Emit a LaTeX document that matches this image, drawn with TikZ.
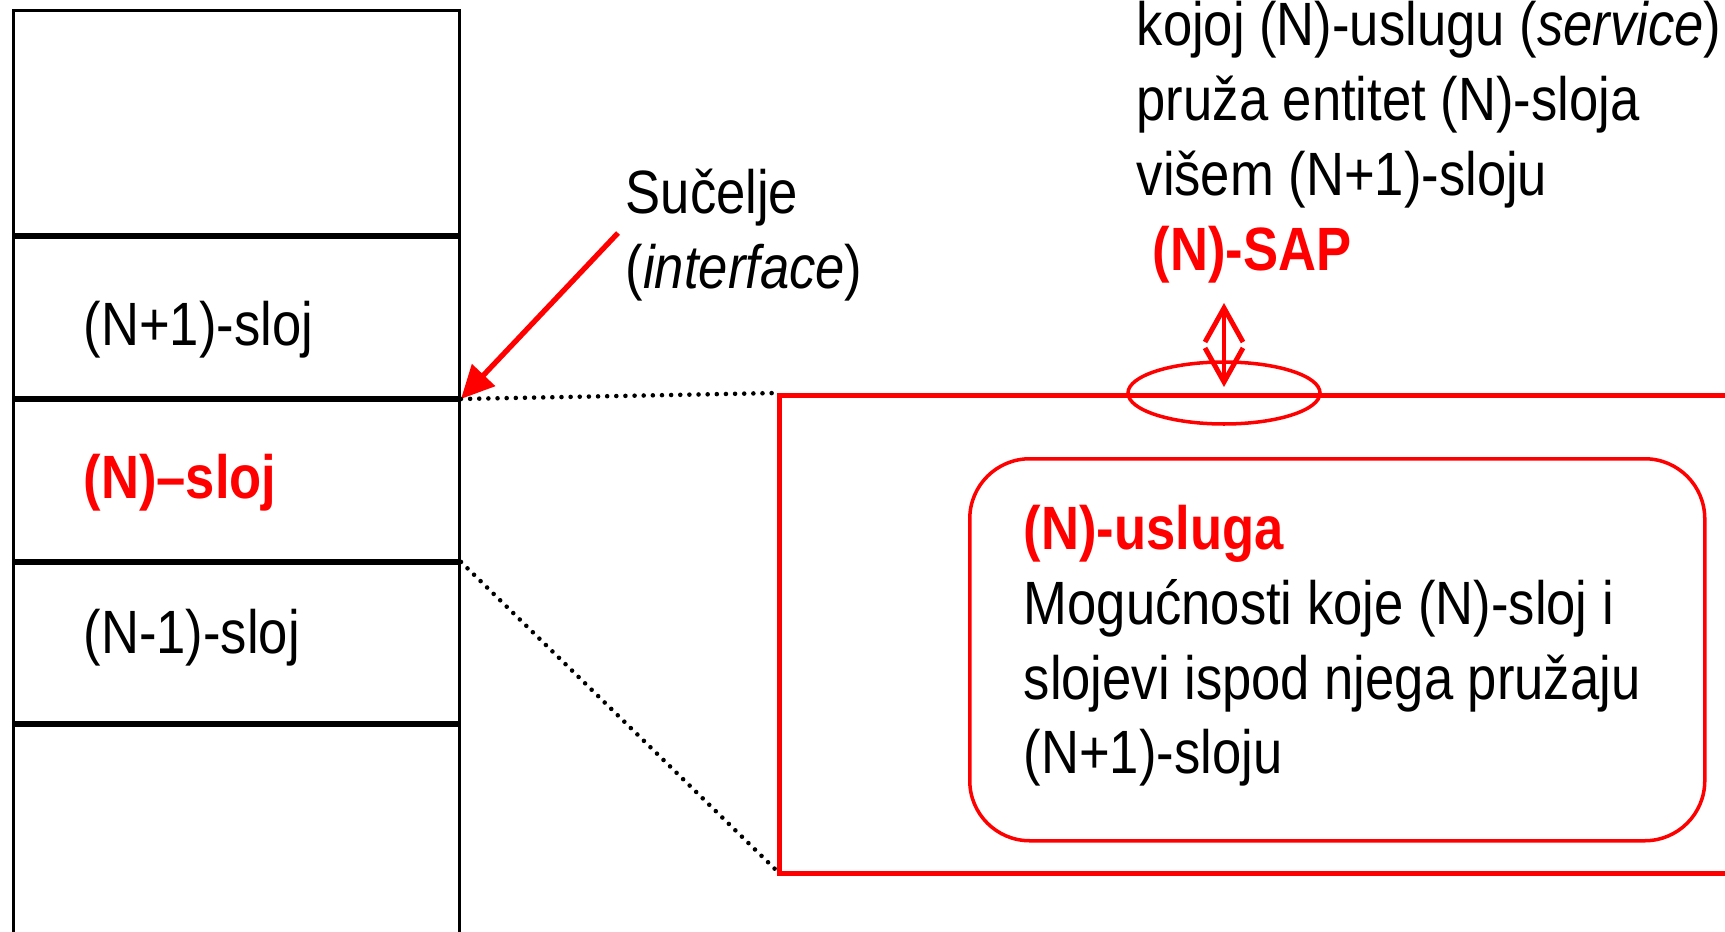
\documentclass[tikz,border=0pt]{standalone}
\usepackage{fontspec}
\setmainfont{Liberation Sans}[FakeStretch=0.86]
\usepackage{tikz}
\usetikzlibrary{arrows.meta, calc, positioning, shapes.geometric}
\newcommand{\diagfont}{\fontsize{17.4}{21.3}\selectfont}
\tikzset{
	layer/.style = {draw, line width=0.85pt, minimum width=44.6mm, anchor=north west, inner sep=0pt},
	lbl/.style = {font=\diagfont, anchor=west, inner sep=0pt},
	redlbl/.style = {lbl, text=red, font=\diagfont\bfseries},
	zoombox/.style = {draw=red, line width=1.3pt, anchor=north west, inner sep=0pt},
	svcbox/.style = {draw=red, line width=1pt, rounded corners=6mm, anchor=north west, inner sep=0pt},
	sapring/.style = {draw=red, ellipse, line width=1pt, inner sep=0pt},
	ifcarrow/.style = {red, line width=1.5pt, -{Triangle[length=3.3mm, width=3.1mm]}},
	saparrow/.style = {red, line width=1.4pt, {Straight Barb[length=3.4mm, width=3.8mm]}-{Straight Barb[length=3.4mm, width=3.8mm]}},
	dotlink/.style = {line width=1.3pt, line cap=round, dash pattern=on 0pt off 2.6pt}
}
\begin{document}
\begin{tikzpicture}[x=0.1mm, y=-0.1mm]
		\useasboundingbox (0,0) rectangle (1725,932);
		% layer stack
		\node[layer, minimum height=22.4mm] (Lup) at (12,9) {};
		\node[layer, minimum height=16mm] (Lhi) at (Lup.south west) {};
		\node[layer, minimum height=16mm] (Lmid) at (Lhi.south west) {};
		\node[layer, minimum height=15.9mm] (Llo) at (Lmid.south west) {};
		\node[layer, minimum height=25mm] (Lbot) at (Llo.south west) {};
		\node[lbl] (tHi) at ($(Lhi.west) + (71,12)$) {(N+1)-sloj};
		\node[redlbl] (tMid) at ($(Lmid.west) + (71,2)$) {(N)--sloj};
		\node[lbl] (tLo) at ($(Llo.west) + (71,-5)$) {(N-1)-sloj};
		% interface
		\node[lbl, align=left] (ifcTxt) at (625,235) {Sučelje\\(\textit{interface})};
		\coordinate (ifcTail) at (618,233);
		\draw[ifcarrow] (ifcTail) -- (Lhi.south east);
		% zoomed (N)-layer
		\draw[dotlink] (Lmid.north east) -- (777,393);
		\draw[dotlink] (Lmid.south east) -- (777,871);
		\node[zoombox, minimum width=100mm, minimum height=47.8mm] (Nzoom) at (777,393) {};
		\node[svcbox, minimum width=73.5mm, minimum height=38.2mm] (svc) at (968,457) {};
		\node[lbl, align=left] (svcTxt) at ($(svc.west) + (55,-4)$)
			{\textcolor{red}{\bfseries (N)-usluga}\\ Mogućnosti koje (N)-sloj i\\ slojevi ispod njega pružaju\\ (N+1)-sloju};
		\node[sapring, minimum width=19.2mm, minimum height=6.2mm] (SAP) at (1224,393) {};
		\node[redlbl] (sapLbl) at (1152,255) {(N)-SAP};
		\node[lbl, align=left] (sapTxt) at (1136,105) {kojoj (N)-uslugu (\textit{service})\\ pruža entitet (N)-sloja\\ višem (N+1)-sloju};
		\coordinate (sapTop) at (1224,303);
		\draw[saparrow] (sapTop) -- ([yshift=0.6mm]SAP.center);
	\end{tikzpicture}
\end{document}
